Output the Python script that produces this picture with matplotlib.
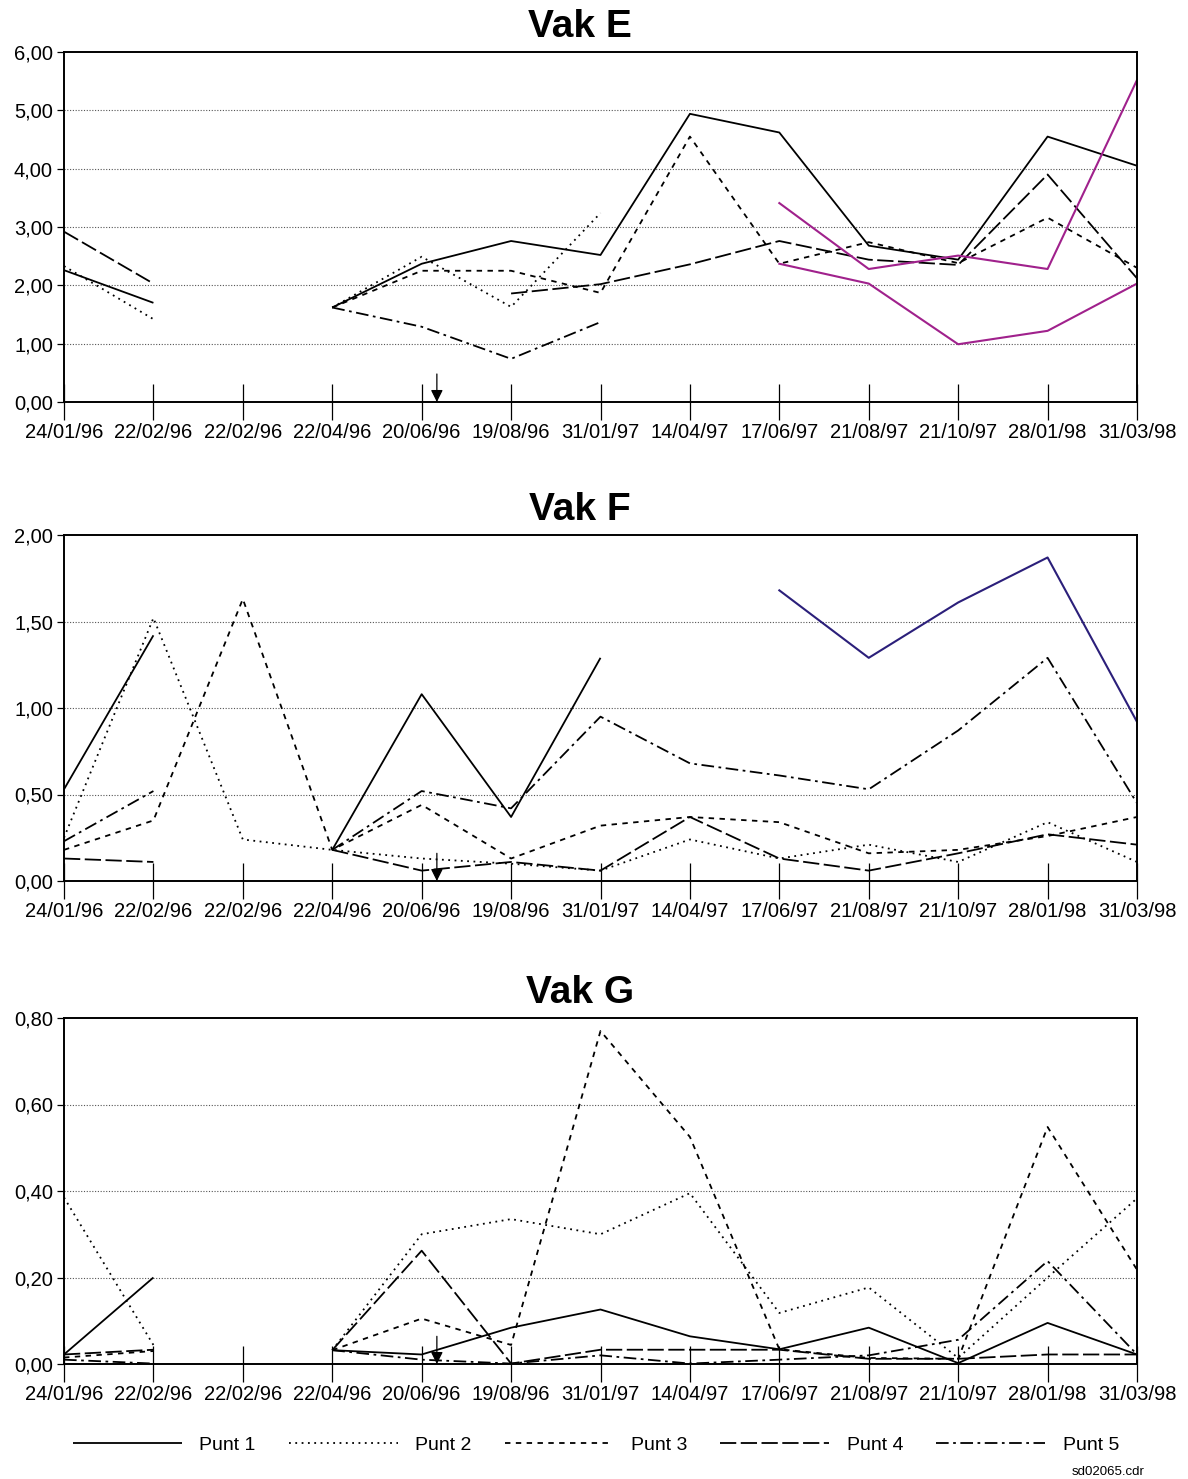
import numpy as np
import matplotlib
matplotlib.use("Agg")
import matplotlib.pyplot as plt
from matplotlib.lines import Line2D

plt.rcParams['font.family'] = ['Liberation Sans', 'DejaVu Sans']

# Data
dates = ['24/01/96', '22/02/96', '22/02/96', '22/04/96', '20/06/96', '19/08/96',
         '31/01/97', '14/04/97', '17/06/97', '21/08/97', '21/10/97', '28/01/98', '31/03/98']
n = None

# Vak E
e_p1 = [2.26, 1.70, n, 1.62, 2.37, 2.76, 2.52, 4.94, 4.62, 2.68, 2.44, 4.55, 4.05]
e_p2 = [2.33, 1.42, n, 1.62, 2.49, 1.63, 3.24, n, n, n, n, n, n]
e_p3 = [n, n, n, 1.62, 2.25, 2.25, 1.87, 4.55, 2.37, 2.74, 2.38, 3.16, 2.30]
e_p4 = [2.92, 2.03, n, n, n, 1.86, 2.02, 2.36, 2.76, 2.44, 2.35, 3.90, 2.12]
e_p5 = [n, n, n, 1.62, 1.29, 0.74, 1.37, n, n, n, n, n, n]
e_x1 = [n, n, n, n, n, n, n, n, 3.41, 2.28, 2.51, 2.28, 5.52]
e_x2 = [n, n, n, n, n, n, n, n, 2.37, 2.03, 0.99, 1.22, 2.03]

# Vak F
f_p1 = [0.53, 1.42, n, 0.18, 1.08, 0.37, 1.29, n, n, n, n, n, n]
f_p2 = [0.25, 1.52, 0.24, 0.18, 0.13, 0.10, 0.06, 0.24, 0.13, 0.21, 0.11, 0.34, 0.11]
f_p3 = [0.18, 0.35, 1.63, 0.18, 0.44, 0.13, 0.32, 0.37, 0.34, 0.16, 0.18, 0.26, 0.37]
f_p4 = [0.13, 0.11, n, 0.18, 0.06, 0.11, 0.06, 0.37, 0.13, 0.06, 0.16, 0.27, 0.21]
f_p5 = [0.23, 0.52, n, 0.18, 0.52, 0.42, 0.95, 0.68, 0.61, 0.53, 0.87, 1.29, 0.45]
f_x1 = [n, n, n, n, n, n, n, n, 1.68, 1.29, 1.61, 1.87, 0.92]

# Vak G
g_p1 = [0.022, 0.200, n, 0.032, 0.022, 0.084, 0.126, 0.064, 0.034, 0.084, 0.002, 0.095, 0.022]
g_p2 = [0.385, 0.044, n, 0.032, 0.300, 0.335, 0.300, 0.395, 0.118, 0.177, 0.014, 0.200, 0.383]
g_p3 = [0.015, 0.030, n, 0.032, 0.105, 0.044, 0.770, 0.525, 0.034, 0.014, 0.012, 0.548, 0.218]
g_p4 = [0.022, 0.033, n, 0.032, 0.262, 0.001, 0.033, 0.033, 0.033, 0.012, 0.012, 0.022, 0.022]
g_p5 = [0.010, 0.001, n, 0.032, 0.010, 0.001, 0.020, 0.001, 0.010, 0.020, 0.056, 0.238, 0.022]

labels = ['Punt 1', 'Punt 2', 'Punt 3', 'Punt 4', 'Punt 5']
styles = [(0, ()), (0, (1, 2.5)), (0, (3, 3)), (0, (9, 2.5)), (0, (7, 2.5, 1.5, 2.5))]
MAGENTA = '#A0218C'
NAVY = '#2B1F7A'

W, H = 1188, 1479
fig = plt.figure(figsize=(W / 100, H / 100), dpi=100)


def arr(v):
    return np.array([np.nan if x is None else x for x in v], dtype=float)


def make_panel(top_px, bottom_px, title, ymax, ystep, series, extra, fmt):
    ax = fig.add_axes([64 / W, 1 - bottom_px / H, (1137 - 64) / W, (bottom_px - top_px) / H])
    x = np.arange(len(dates))
    for vals, ls in zip(series, styles):
        ax.plot(x, arr(vals), color='black', lw=1.3, linestyle=ls)
    for vals, col in extra:
        ax.plot(x, arr(vals), color=col, lw=1.5)
    ax.set_xlim(0, len(dates) - 1)
    ax.set_ylim(0, ymax)
    ax.set_xticks(x)
    ax.set_xticklabels(dates, fontsize=14.5)
    yt = np.arange(0, ymax + ystep / 2, ystep)
    ax.set_yticks(yt)
    ax.set_yticklabels([fmt.format(v).replace('.', ',') for v in yt], fontsize=14.5)
    for v in yt[1:-1]:
        ax.axhline(v, color='#555555', lw=0.8, linestyle=(0, (1, 1.5)), zorder=0)
    ax.tick_params(axis='x', direction='inout', length=26, width=0.9, pad=2)
    ax.tick_params(axis='y', direction='out', length=5, width=0.9, pad=3)
    for s in ax.spines.values():
        s.set_linewidth(1.4)
    # marker arrow
    ax.annotate('', xy=(4.17, 0), xycoords=('data', 'axes fraction'),
                xytext=(4.17, 0.08), textcoords=('data', 'axes fraction'),
                arrowprops=dict(arrowstyle='-|>', color='black', lw=0.9,
                                mutation_scale=18, shrinkA=0, shrinkB=0))
    fig.text(580 / W, 1 - (top_px - 25) / H, title, ha='center', va='center',
             fontsize=28, fontweight='bold')
    return ax


make_panel(52, 402, 'Vak E', 6, 1, [e_p1, e_p2, e_p3, e_p4, e_p5],
           [(e_x1, MAGENTA), (e_x2, MAGENTA)], '{:.2f}')
make_panel(535, 881, 'Vak F', 2, 0.5, [f_p1, f_p2, f_p3, f_p4, f_p5],
           [(f_x1, NAVY)], '{:.2f}')
make_panel(1018, 1364, 'Vak G', 0.8, 0.2, [g_p1, g_p2, g_p3, g_p4, g_p5],
           [], '{:.2f}')

handles = [Line2D([], [], color='black', lw=1.3, linestyle=ls) for ls in styles]
fig.legend(handles, labels, loc='center', bbox_to_anchor=(596 / W, 1 - 1445 / H),
           ncol=5, frameon=False, handlelength=5.6, handletextpad=0.9,
           columnspacing=1.7, fontsize=14)

fig.text(1145 / W, 1 - 1472 / H, 'sd02065.cdr', ha='right', va='center', fontsize=9.5)

fig.savefig('out.png', dpi=100)
